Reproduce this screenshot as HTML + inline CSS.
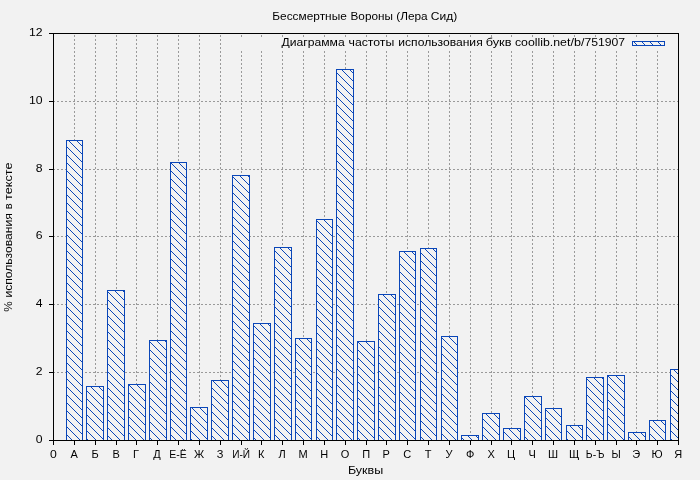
<!DOCTYPE html>
<html><head><meta charset="utf-8"><title>chart</title>
<style>html,body{margin:0;padding:0;background:#f2f2f2;}body{width:700px;height:480px;overflow:hidden;}svg{display:block;}text{font-family:"Liberation Sans",sans-serif;fill:#000;}</style>
</head><body>
<svg width="700" height="480" viewBox="0 0 700 480">
<defs>
<pattern id="h" patternUnits="userSpaceOnUse" x="0" y="0" width="8" height="8">
<rect x="0" y="0" width="8" height="8" fill="#f2f2f2"/>
<path d="M0 0h1v1h-1zM1 1h1v1h-1zM2 2h1v1h-1zM3 3h1v1h-1zM4 4h1v1h-1zM5 5h1v1h-1zM6 6h1v1h-1zM7 7h1v1h-1z" fill="#0a46b8" shape-rendering="crispEdges"/>
</pattern>
<clipPath id="c"><rect x="53" y="33" width="626" height="408"/></clipPath>
</defs>
<rect x="0" y="0" width="700" height="480" fill="#f2f2f2"/>
<g stroke="#9a9a9a" stroke-width="1" fill="none" shape-rendering="crispEdges">
<path d="M74.5 441 V33" stroke-dasharray="2 2"/>
<path d="M95.5 441 V33" stroke-dasharray="2 2"/>
<path d="M116.5 441 V33" stroke-dasharray="2 2"/>
<path d="M136.5 441 V33" stroke-dasharray="2 2"/>
<path d="M157.5 441 V33" stroke-dasharray="2 2"/>
<path d="M178.5 441 V33" stroke-dasharray="2 2"/>
<path d="M199.5 441 V33" stroke-dasharray="2 2"/>
<path d="M220.5 441 V33" stroke-dasharray="2 2"/>
<path d="M241.5 441 V33" stroke-dasharray="2 2"/>
<path d="M261.5 441 V33" stroke-dasharray="2 2"/>
<path d="M282.5 441 V33" stroke-dasharray="2 2"/>
<path d="M303.5 441 V33" stroke-dasharray="2 2"/>
<path d="M324.5 441 V33" stroke-dasharray="2 2"/>
<path d="M345.5 441 V33" stroke-dasharray="2 2"/>
<path d="M366.5 441 V33" stroke-dasharray="2 2"/>
<path d="M386.5 441 V33" stroke-dasharray="2 2"/>
<path d="M407.5 441 V33" stroke-dasharray="2 2"/>
<path d="M428.5 441 V33" stroke-dasharray="2 2"/>
<path d="M449.5 441 V33" stroke-dasharray="2 2"/>
<path d="M470.5 441 V33" stroke-dasharray="2 2"/>
<path d="M491.5 441 V33" stroke-dasharray="2 2"/>
<path d="M511.5 441 V33" stroke-dasharray="2 2"/>
<path d="M532.5 441 V33" stroke-dasharray="2 2"/>
<path d="M553.5 441 V33" stroke-dasharray="2 2"/>
<path d="M574.5 441 V33" stroke-dasharray="2 2"/>
<path d="M595.5 441 V33" stroke-dasharray="2 2"/>
<path d="M616.5 441 V33" stroke-dasharray="2 2"/>
<path d="M636.5 441 V33" stroke-dasharray="2 2"/>
<path d="M657.5 441 V33" stroke-dasharray="2 2"/>
<path d="M53 372.5 H678" stroke-dasharray="2 2"/>
<path d="M53 304.5 H678" stroke-dasharray="2 2"/>
<path d="M53 236.5 H678" stroke-dasharray="2 2"/>
<path d="M53 169.5 H678" stroke-dasharray="2 2"/>
<path d="M53 101.5 H678" stroke-dasharray="2 2"/>
</g>
<rect x="236" y="38" width="438" height="13" fill="#f2f2f2"/>
<g clip-path="url(#c)" fill="url(#h)" stroke="#0a46b8" stroke-width="1" shape-rendering="crispEdges">
<rect x="66.5" y="140.5" width="16" height="300"/>
<rect x="86.5" y="386.5" width="17" height="54"/>
<rect x="107.5" y="290.5" width="17" height="150"/>
<rect x="128.5" y="384.5" width="17" height="56"/>
<rect x="149.5" y="340.5" width="17" height="100"/>
<rect x="170.5" y="162.5" width="16" height="278"/>
<rect x="190.5" y="407.5" width="17" height="33"/>
<rect x="211.5" y="380.5" width="17" height="60"/>
<rect x="232.5" y="175.5" width="17" height="265"/>
<rect x="253.5" y="323.5" width="17" height="117"/>
<rect x="274.5" y="247.5" width="17" height="193"/>
<rect x="295.5" y="338.5" width="16" height="102"/>
<rect x="316.5" y="219.5" width="16" height="221"/>
<rect x="336.5" y="69.5" width="17" height="371"/>
<rect x="357.5" y="341.5" width="17" height="99"/>
<rect x="378.5" y="294.5" width="17" height="146"/>
<rect x="399.5" y="251.5" width="16" height="189"/>
<rect x="420.5" y="248.5" width="16" height="192"/>
<rect x="441.5" y="336.5" width="16" height="104"/>
<rect x="461.5" y="435.5" width="17" height="5"/>
<rect x="482.5" y="413.5" width="17" height="27"/>
<rect x="503.5" y="428.5" width="17" height="12"/>
<rect x="524.5" y="396.5" width="17" height="44"/>
<rect x="545.5" y="408.5" width="16" height="32"/>
<rect x="566.5" y="425.5" width="16" height="15"/>
<rect x="586.5" y="377.5" width="17" height="63"/>
<rect x="607.5" y="375.5" width="17" height="65"/>
<rect x="628.5" y="432.5" width="17" height="8"/>
<rect x="649.5" y="420.5" width="16" height="20"/>
<rect x="670.5" y="369.5" width="16" height="71"/>
</g>
<rect x="632.5" y="41.5" width="32" height="4" fill="url(#h)" stroke="#0a46b8" stroke-width="1" shape-rendering="crispEdges"/>
<g stroke="#000" stroke-width="1" fill="none" shape-rendering="crispEdges">
<rect x="53.5" y="33.5" width="625" height="407"/>
<path d="M53.5 441 V445"/>
<path d="M74.5 441 V445"/>
<path d="M95.5 441 V445"/>
<path d="M116.5 441 V445"/>
<path d="M136.5 441 V445"/>
<path d="M157.5 441 V445"/>
<path d="M178.5 441 V445"/>
<path d="M199.5 441 V445"/>
<path d="M220.5 441 V445"/>
<path d="M241.5 441 V445"/>
<path d="M261.5 441 V445"/>
<path d="M282.5 441 V445"/>
<path d="M303.5 441 V445"/>
<path d="M324.5 441 V445"/>
<path d="M345.5 441 V445"/>
<path d="M366.5 441 V445"/>
<path d="M386.5 441 V445"/>
<path d="M407.5 441 V445"/>
<path d="M428.5 441 V445"/>
<path d="M449.5 441 V445"/>
<path d="M470.5 441 V445"/>
<path d="M491.5 441 V445"/>
<path d="M511.5 441 V445"/>
<path d="M532.5 441 V445"/>
<path d="M553.5 441 V445"/>
<path d="M574.5 441 V445"/>
<path d="M595.5 441 V445"/>
<path d="M616.5 441 V445"/>
<path d="M636.5 441 V445"/>
<path d="M657.5 441 V445"/>
<path d="M678.5 441 V445"/>
<path d="M49 440.5 H53"/>
<path d="M49 372.5 H53"/>
<path d="M49 304.5 H53"/>
<path d="M49 236.5 H53"/>
<path d="M49 169.5 H53"/>
<path d="M49 101.5 H53"/>
<path d="M49 33.5 H53"/>
</g>
<g font-size="11.6" opacity="0.999">
<text x="35.7" y="442.9" textLength="6.8" lengthAdjust="spacingAndGlyphs">0</text>
<text x="35.7" y="374.9" textLength="6.8" lengthAdjust="spacingAndGlyphs">2</text>
<text x="35.7" y="306.9" textLength="6.8" lengthAdjust="spacingAndGlyphs">4</text>
<text x="35.7" y="238.9" textLength="6.8" lengthAdjust="spacingAndGlyphs">6</text>
<text x="35.7" y="171.9" textLength="6.8" lengthAdjust="spacingAndGlyphs">8</text>
<text x="28.9" y="103.9" textLength="13.6" lengthAdjust="spacingAndGlyphs">10</text>
<text x="28.9" y="35.9" textLength="13.6" lengthAdjust="spacingAndGlyphs">12</text>
<text x="49.9" y="458" textLength="6.8" lengthAdjust="spacingAndGlyphs">0</text>
<text transform="translate(74.1,458) scale(0.950,1)" text-anchor="middle">А</text>
<text transform="translate(95.1,458) scale(0.950,1)" text-anchor="middle">Б</text>
<text transform="translate(116.1,458) scale(0.950,1)" text-anchor="middle">В</text>
<text transform="translate(136.1,458) scale(0.950,1)" text-anchor="middle">Г</text>
<text transform="translate(157.1,458) scale(0.950,1)" text-anchor="middle">Д</text>
<text transform="translate(178.1,458) scale(0.905,1)" text-anchor="middle">Е-Ё</text>
<text transform="translate(199.1,458) scale(0.950,1)" text-anchor="middle">Ж</text>
<text transform="translate(220.1,458) scale(0.950,1)" text-anchor="middle">З</text>
<text transform="translate(241.1,458) scale(0.870,1)" text-anchor="middle">И-Й</text>
<text transform="translate(261.1,458) scale(0.950,1)" text-anchor="middle">К</text>
<text transform="translate(282.1,458) scale(0.950,1)" text-anchor="middle">Л</text>
<text transform="translate(303.1,458) scale(0.950,1)" text-anchor="middle">М</text>
<text transform="translate(324.1,458) scale(0.950,1)" text-anchor="middle">Н</text>
<text transform="translate(345.1,458) scale(0.950,1)" text-anchor="middle">О</text>
<text transform="translate(366.1,458) scale(0.950,1)" text-anchor="middle">П</text>
<text transform="translate(386.1,458) scale(0.950,1)" text-anchor="middle">Р</text>
<text transform="translate(407.1,458) scale(0.950,1)" text-anchor="middle">С</text>
<text transform="translate(428.1,458) scale(0.950,1)" text-anchor="middle">Т</text>
<text transform="translate(449.1,458) scale(0.950,1)" text-anchor="middle">У</text>
<text transform="translate(470.1,458) scale(0.950,1)" text-anchor="middle">Ф</text>
<text transform="translate(491.1,458) scale(0.950,1)" text-anchor="middle">Х</text>
<text transform="translate(511.1,458) scale(0.950,1)" text-anchor="middle">Ц</text>
<text transform="translate(532.1,458) scale(0.950,1)" text-anchor="middle">Ч</text>
<text transform="translate(553.1,458) scale(0.950,1)" text-anchor="middle">Ш</text>
<text transform="translate(574.1,458) scale(0.950,1)" text-anchor="middle">Щ</text>
<text transform="translate(595.1,458) scale(0.900,1)" text-anchor="middle">Ь-Ъ</text>
<text transform="translate(616.1,458) scale(0.900,1)" text-anchor="middle">Ы</text>
<text transform="translate(636.1,458) scale(0.950,1)" text-anchor="middle">Э</text>
<text transform="translate(657.1,458) scale(0.950,1)" text-anchor="middle">Ю</text>
<text transform="translate(678.1,458) scale(0.950,1)" text-anchor="middle">Я</text>
<text x="272.3" y="20.0" textLength="74.5" lengthAdjust="spacingAndGlyphs">Бессмертные</text>
<text x="350.5" y="20.0" textLength="42.4" lengthAdjust="spacingAndGlyphs">Вороны</text>
<text x="396.3" y="20.0" textLength="31.4" lengthAdjust="spacingAndGlyphs">(Лера</text>
<text x="430.8" y="20.0" textLength="26.4" lengthAdjust="spacingAndGlyphs">Сид)</text>
<text x="281.6" y="46.0" textLength="63.1" lengthAdjust="spacingAndGlyphs">Диаграмма</text>
<text x="348.5" y="46.0" textLength="45.8" lengthAdjust="spacingAndGlyphs">частоты</text>
<text x="398.3" y="46.0" textLength="84.4" lengthAdjust="spacingAndGlyphs">использования</text>
<text x="485.7" y="46.0" textLength="25.8" lengthAdjust="spacingAndGlyphs">букв</text>
<text x="514.9" y="46.0" textLength="55.5" lengthAdjust="spacingAndGlyphs">coollib.net</text>
<text x="570.4" y="46.0" textLength="14.0" lengthAdjust="spacingAndGlyphs">/b/</text>
<text x="584.4" y="46.0" textLength="40.7" lengthAdjust="spacingAndGlyphs">751907</text>
<text x="347.9" y="474.0" textLength="35.3" lengthAdjust="spacingAndGlyphs">Буквы</text>
<g transform="translate(12.3,0) rotate(-90)">
<text x="-311.7" y="0" textLength="10.4" lengthAdjust="spacingAndGlyphs">%</text>
<text x="-297.5" y="0" textLength="84.2" lengthAdjust="spacingAndGlyphs">использования</text>
<text x="-209.2" y="0" textLength="5.9" lengthAdjust="spacingAndGlyphs">в</text>
<text x="-200.0" y="0" textLength="37.5" lengthAdjust="spacingAndGlyphs">тексте</text>
</g>
</g>
</svg></body></html>
